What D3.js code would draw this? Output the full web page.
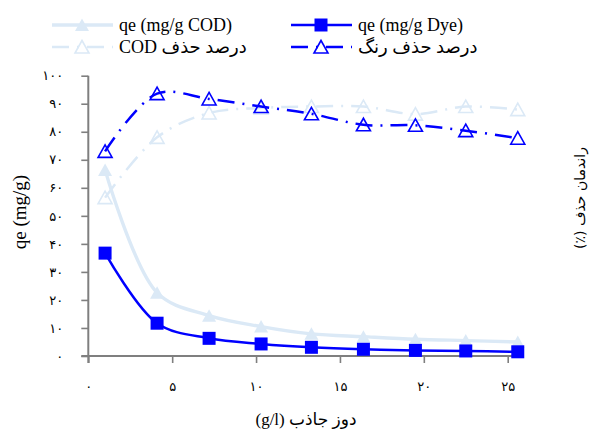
<!DOCTYPE html>
<html>
<head>
<meta charset="utf-8">
<script src="https://cdn.jsdelivr.net/npm/d3@7"></script>
<style>
  body { margin: 0; background: #fff; }
</style>
</head>
<body>
<div id="chart"></div>
<script>
// adsorbent dose (g/l)
const dose = [1, 4.1, 7.2, 10.3, 13.3, 16.4, 19.5, 22.5, 25.6];
const qeCOD = [66.4, 22.6, 14.4, 10.5, 7.9, 6.9, 6.0, 5.5, 5.0];
const qeDye = [36.7, 11.7, 6.3, 4.3, 3.1, 2.4, 2.0, 1.8, 1.5];
const removalCOD = [56.5, 78.0, 86.7, 88.5, 89.0, 89.0, 86.3, 89.0, 87.9];
const removalDye = [73.0, 93.6, 91.7, 89.0, 86.4, 82.5, 82.3, 80.4, 77.7];

const xTicks = [0, 5, 10, 15, 20, 25];
const yTicks = [0, 10, 20, 30, 40, 50, 60, 70, 80, 90, 100];

const seriesNames = ["qe (mg/g COD)", "qe (mg/g Dye)", "درصد حذف COD", "درصد حذف رنگ"];

const light = "#dbe9f6",
  blue = "#0000ff",
  axisGray = "#7f7f7f";
const serif = "'Liberation Serif', 'Times New Roman', Times, 'DejaVu Sans'";

const fa = (v) => String(v).replace(/\d/g, (c) => "۰۱۲۳۴۵۶۷۸۹"[c]);

const width = 595,
  height = 432;

const svg = d3
  .select("#chart")
  .append("svg")
  .attr("width", width)
  .attr("height", height);

const x = d3.scaleLinear().domain([0, 25]).range([88.3, 507.7]);
const y = d3.scaleLinear().domain([0, 100]).range([356, 75.7]);

// axes
const yAxis = svg
  .append("g")
  .attr("transform", `translate(${x(0)},0)`)
  .call(d3.axisLeft(y).tickValues(yTicks).tickSize(7).tickFormat(fa));
const xAxis = svg
  .append("g")
  .attr("transform", `translate(0,${y(0)})`)
  .call(d3.axisBottom(x).tickValues(xTicks).tickSize(7).tickFormat(fa));

[xAxis, yAxis].forEach((g) => {
  g.select(".domain").remove();
  g.selectAll(".tick line").attr("stroke", axisGray).attr("stroke-width", 1.6);
  g.selectAll(".tick text")
    .attr("fill", "#000")
    .style("font-family", "DejaVu Sans")
    .style("font-size", "13px");
});
yAxis.selectAll(".tick text").attr("x", -25);
xAxis.selectAll(".tick text").attr("y", 26);

svg
  .append("line")
  .attr("x1", x(0))
  .attr("x2", x(0))
  .attr("y1", y(100))
  .attr("y2", y(0) + 7)
  .attr("stroke", axisGray)
  .attr("stroke-width", 2);
svg
  .append("line")
  .attr("x1", x(0) - 7)
  .attr("x2", x(25) + 15)
  .attr("y1", y(0))
  .attr("y2", y(0))
  .attr("stroke", axisGray)
  .attr("stroke-width", 2);

// markers
const triPath = "M0,-6.5L7,6L-7,6Z";
const sqPath = "M-6.5,-6.5H6.5V6.5H-6.5Z";
const dashDot = "17,8,2,8";

const series = [
  { vals: qeCOD, color: light, width: 3.4, dash: null, mark: triPath, fill: light },
  { vals: removalCOD, color: light, width: 2.5, dash: dashDot, mark: triPath, fill: "none" },
  { vals: qeDye, color: blue, width: 2.5, dash: null, mark: sqPath, fill: blue },
  { vals: removalDye, color: blue, width: 2.5, dash: dashDot, mark: triPath, fill: "none" },
];

const line = d3
  .line()
  .x((d) => x(d[0]))
  .y((d) => y(d[1]))
  .curve(d3.curveCatmullRom.alpha(0.5));

series.forEach((s) => {
  const pts = dose.map((d, i) => [d, s.vals[i]]);
  svg
    .append("path")
    .datum(pts)
    .attr("d", line)
    .attr("fill", "none")
    .attr("stroke", s.color)
    .attr("stroke-width", s.width)
    .attr("stroke-dasharray", s.dash);
  svg
    .selectAll(null)
    .data(pts)
    .enter()
    .append("path")
    .attr("d", s.mark)
    .attr("transform", (d) => `translate(${x(d[0])},${y(d[1])})`)
    .attr("fill", s.fill)
    .attr("stroke", s.color)
    .attr("stroke-width", s.fill === "none" ? 1.6 : 0);
});

// legend
const legend = [
  { name: seriesNames[0], s: series[0], lx: 52, ly: 25 },
  { name: seriesNames[2], s: series[1], lx: 52, ly: 47 },
  { name: seriesNames[1], s: series[2], lx: 291, ly: 25 },
  { name: seriesNames[3], s: series[3], lx: 291, ly: 47 },
];
legend.forEach((l) => {
  const g = svg.append("g");
  g.append("line")
    .attr("x1", l.lx)
    .attr("x2", l.lx + 61)
    .attr("y1", l.ly)
    .attr("y2", l.ly)
    .attr("stroke", l.s.color)
    .attr("stroke-width", l.s.width)
    .attr("stroke-dasharray", l.s.dash);
  g.append("path")
    .attr("d", l.s.mark)
    .attr("transform", `translate(${l.lx + 30},${l.ly})`)
    .attr("fill", l.s.fill)
    .attr("stroke", l.s.color)
    .attr("stroke-width", l.s.fill === "none" ? 1.6 : 0);
  const t = g
    .append("text")
    .attr("y", l.ly + 6)
    .attr("direction", l.name.match(/[\u0600-\u06ff]/) ? "rtl" : "ltr")
    .attr("text-anchor", "middle")
    .style("font-family", serif)
    .style("font-size", "18px")
    .text(l.name);
  const w = t.node().getComputedTextLength();
  t.attr("x", l.lx + 67 + w / 2);
});

// axis titles
svg
  .append("text")
  .attr("transform", `translate(26,212) rotate(-90)`)
  .attr("text-anchor", "middle")
  .style("font-family", serif)
  .style("font-size", "19px")
  .text("qe (mg/g)");

svg
  .append("text")
  .attr("x", 306)
  .attr("y", 425)
  .attr("direction", "rtl")
  .attr("text-anchor", "middle")
  .style("font-family", serif)
  .style("font-size", "17px")
  .text("دوز جاذب (g/l)");

svg
  .append("text")
  .attr("transform", `translate(585,198) rotate(-90)`)
  .attr("direction", "rtl")
  .attr("text-anchor", "middle")
  .style("font-family", "DejaVu Sans")
  .style("font-size", "14px")
  .text("راندمان حذف (٪)");
</script>
</body>
</html>
